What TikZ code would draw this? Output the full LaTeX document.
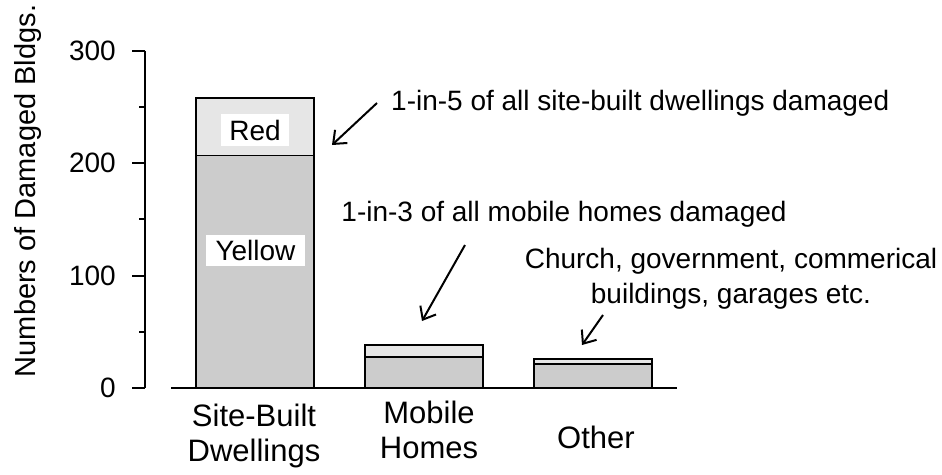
\documentclass[tikz,border=0pt]{standalone}
\usepackage{fontspec}
\setmainfont{Liberation Sans}
\usetikzlibrary{arrows.meta}
\definecolor{yfill}{RGB}{204,204,204}
\definecolor{rfill}{RGB}{230,230,230}
\begin{document}
\begin{tikzpicture}[x=1pt,y=-1pt,
  lbl/.style={font=\fontsize{28}{33}\selectfont, inner sep=0pt},
  cat/.style={font=\fontsize{31}{35}\selectfont, align=center, inner sep=0pt},
  yelbar/.style={fill=yfill, draw=black, line width=1.5pt},
  redbar/.style={fill=rfill, draw=black, line width=1.5pt},
  axisline/.style={line width=2pt},
  tickmark/.style={line width=2pt},
  callout/.style={line width=2pt, -{Straight Barb[length=11pt,width=18pt]}},
  tag/.style={lbl, fill=white, inner sep=0pt}
]
\useasboundingbox (0,0) rectangle (942,474);
% bars (value v -> y = 388 - 1.124 v)
\draw[yelbar] (196,388) rectangle (314,155.3);
\draw[redbar] (196,155.3) rectangle (314,98);
\draw[yelbar] (365,388) rectangle (483,357);
\draw[redbar] (365,357) rectangle (483,345);
\draw[yelbar] (534,388) rectangle (652,364);
\draw[redbar] (534,364) rectangle (652,359);
% axes
\draw[axisline] (145,50.7) -- (145,388);
\draw[axisline] (171,388) -- (677,388);
\foreach \v/\y in {0/388,100/275.6,200/163.2,300/50.7}{
  \draw[tickmark] (132,\y) -- (145,\y);
  \node[lbl, anchor=east] (t\v) at (116,\y) {\v};
}
\foreach \y in {331.8,219.4,107}{
  \draw[tickmark] (139,\y) -- (145,\y);
}
\node[lbl, rotate=90, font=\fontsize{29}{33}\selectfont] (ytitle) at (28,191) {Numbers of Damaged Bldgs.};
% bar tags
\node[tag, minimum width=68pt, minimum height=32pt] (red) at (255,130) {Red};
\node[tag, minimum width=99pt, minimum height=31pt] (yellow) at (255.5,250.5) {Yellow};
% categories
\node[cat] (c1) at (254,436) {Site-Built\\Dwellings};
\node[cat] (c2) at (429,430) {Mobile\\Homes};
\node[cat] (c3) at (596,437) {Other};
% annotations
\node[lbl, anchor=west] (a1) at (391,103) {1-in-5 of all site-built dwellings damaged};
\node[lbl] (a2) at (564,214) {1-in-3 of all mobile homes damaged};
\node[lbl, align=center, font=\fontsize{28}{35}\selectfont] (a3) at (731,279) {Church, government, commerical\\buildings, garages etc.};
\coordinate (s1) at (377,103);
\coordinate (e1) at (332,145);
\coordinate (s2) at (465,245);
\coordinate (e2) at (422,321);
\coordinate (s3) at (603,315);
\coordinate (e3) at (582,345);
\draw[callout] (s1) -- (e1);
\draw[callout] (s2) -- (e2);
\draw[callout] (s3) -- (e3);
\end{tikzpicture}
\end{document}
